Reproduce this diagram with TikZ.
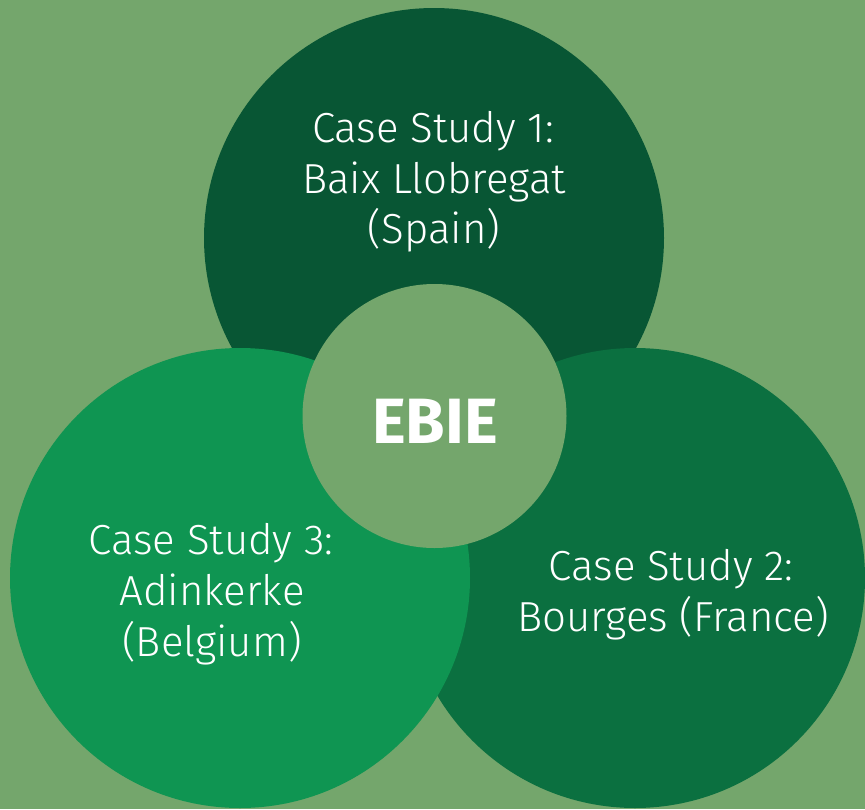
\documentclass[tikz,border=0pt]{standalone}
\usepackage{fontspec}
\setmainfont{Fira Sans}
\newfontfamily\lightfont{Fira Sans Light}
\definecolor{bg}{HTML}{74A66C}
\definecolor{cone}{HTML}{085634}
\definecolor{ctwo}{HTML}{0B7040}
\definecolor{cthree}{HTML}{0F9552}
\begin{document}
\begin{tikzpicture}[x=1pt,y=-1pt,
  bigcircle/.style={circle,inner sep=0pt,minimum size=460pt},
  label/.style={anchor=base,text=white,inner sep=0pt,font=\lightfont\fontsize{42}{50}\selectfont},
  title/.style={anchor=base,text=white,inner sep=0pt,font=\bfseries\fontsize{64}{70}\selectfont}]
\useasboundingbox (0,0) rectangle (865,809);
\fill[bg] (0,0) rectangle (865,809);
\node[bigcircle,fill=cone] (c1) at (434,238) {};
\node[bigcircle,fill=ctwo] (c2) at (635,578) {};
\node[bigcircle,fill=cthree] (c3) at (240,578) {};
\node[circle,inner sep=0pt,minimum size=264pt,fill=bg] (mid) at (434.5,416) {};
\node[title] (ebie) at (435,443) {EBIE};
\node[label] (t1a) at (433,142) {Case Study 1:};
\node[label] (t1b) at (434,193) {Baix Llobregat};
\node[label] (t1c) at (434,243) {(Spain)};
\node[label] (t2a) at (671,580) {Case Study 2:};
\node[label] (t2b) at (673,631) {Bourges (France)};
\node[label] (t3a) at (211,554) {Case Study 3:};
\node[label] (t3b) at (212,605) {Adinkerke};
\node[label] (t3c) at (212,656) {(Belgium)};
\end{tikzpicture}
\end{document}
